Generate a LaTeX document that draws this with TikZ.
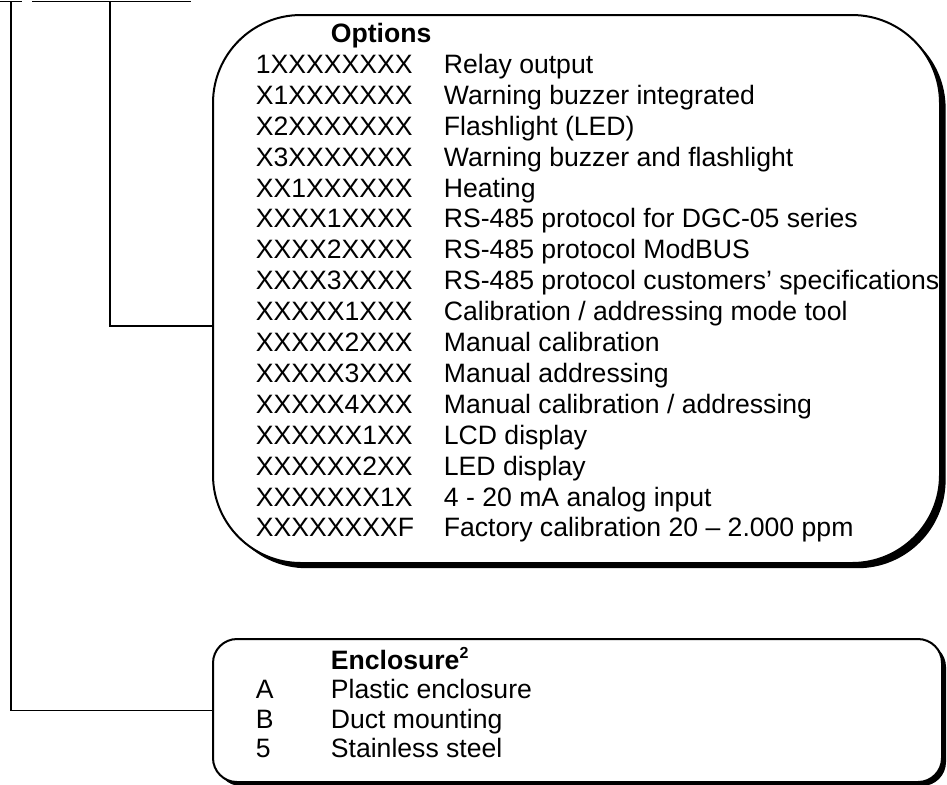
\documentclass[tikz,border=0pt]{standalone}
\usepackage{fontspec}
\setmainfont{Liberation Sans}
\usetikzlibrary{shadows}

\begin{document}
\begin{tikzpicture}[x=0.5pt,y=-0.5pt,line width=0.9pt]
        \tikzstyle{every node}=[inner sep=0pt, font=\fontsize{13.3}{15.5}\selectfont]
        \tikzstyle{box}=[draw, line width=1pt, fill=white]
        \tikzstyle{entry}=[anchor=base west]
        \tikzstyle{head}=[entry, font=\fontsize{13.3}{15.5}\selectfont\bfseries]
        \useasboundingbox (0,0) rectangle (947,784);
        % boxes
        \node[box, rounded corners=44pt, minimum width=363.5pt, minimum height=274pt, drop shadow={shadow xshift=2.8pt, shadow yshift=-2.6pt, opacity=1, fill=black}] (options) at (576.5,289) {};
        \node[box, rounded corners=12pt, minimum width=364.5pt, minimum height=71.5pt, drop shadow={shadow xshift=2pt, shadow yshift=-2pt, opacity=1, fill=black}] (enclosure) at (577.5,710.5) {};
        % options list
        \node[head] (opthead) at (330,42.7) {Options};
        \foreach \code/\desc [count=\i from 0] in {1XXXXXXXX/Relay output, X1XXXXXXX/Warning buzzer integrated, X2XXXXXXX/Flashlight (LED), X3XXXXXXX/Warning buzzer and flashlight, XX1XXXXXX/Heating, XXXX1XXXX/RS-485 protocol for DGC-05 series, XXXX2XXXX/RS-485 protocol ModBUS, XXXX3XXXX/RS-485 protocol customers’ specifications, XXXXX1XXX/{Calibration / addressing mode tool}, XXXXX2XXX/Manual calibration, XXXXX3XXX/Manual addressing, XXXXX4XXX/{Manual calibration / addressing}, XXXXXX1XX/LCD display, XXXXXX2XX/LED display, XXXXXXX1X/4 - 20 mA analog input, XXXXXXXXF/Factory calibration 20 – 2.000 ppm}
        {
            \node[entry] (optcode\i) at (255,{73.4+30.9*\i}) {\code};
            \node[entry] (optdesc\i) at (443,{73.4+30.9*\i}) {\desc};
        }
        % enclosure list
        \node[head] (enchead) at (330,669) {Enclosure\raisebox{0.75ex}{\fontsize{8}{8}\selectfont 2}};
        \foreach \code/\desc [count=\i] in {A/Plastic enclosure, B/Duct mounting, 5/Stainless steel}
        {
            \node[entry] (enccode\i) at (255,{669+29.5*\i}) {\code};
            \node[entry] (encdesc\i) at (330,{669+29.5*\i}) {\desc};
        }
        % connectors
        \coordinate (barAw) at (0,1.5);
        \coordinate (barAe) at (22,1.5);
        \coordinate (barBw) at (32,1.5);
        \coordinate (barBe) at (191,1.5);
        \coordinate (legA) at (11,1.5);
        \coordinate (legB) at (110,1.5);
        \coordinate (tapB) at (110,326);
        \draw (barAw) -- (barAe);
        \draw (barBw) -- (barBe);
        \draw (legB) -- (tapB) -- (tapB -| options.west);
        \draw (legA) |- (enclosure.west);
    \end{tikzpicture}
\end{document}
